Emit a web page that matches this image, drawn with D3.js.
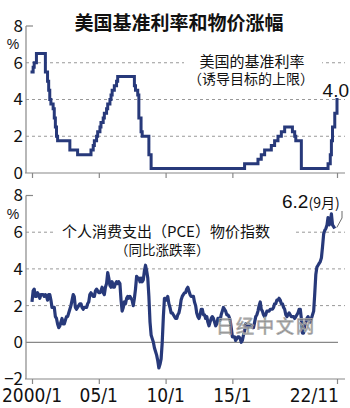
<!DOCTYPE html>
<html>
<head>
<meta charset="utf-8">
<script src="https://cdn.jsdelivr.net/npm/d3@7"></script>
<style>
  body { margin: 0; background: #fff; }
  text { font-family: "Noto Sans CJK SC", "Liberation Sans", sans-serif; fill: #111; }
  .num { font-family: "Liberation Sans", Arial, sans-serif; }
  .narrow { font-family: "Liberation Sans Narrow", "DejaVu Sans Condensed", sans-serif; }
</style>
</head>
<body>
<svg id="chart" width="350" height="408"></svg>
<script>
// fed funds target (upper bound), month of each change
const rateMonths = [
  "2000-01","2000-02","2000-03","2000-05","2001-01","2001-03","2001-04","2001-05","2001-06","2001-08",
  "2001-09","2001-10","2001-11","2001-12","2002-11","2003-06","2004-06","2004-08","2004-09","2004-11",
  "2004-12","2005-02","2005-03","2005-05","2005-06","2005-08","2005-09","2005-11","2005-12","2006-01",
  "2006-03","2006-05","2006-06","2007-09","2007-10","2007-12","2008-01","2008-03","2008-04","2008-10",
  "2008-12","2015-12","2016-12","2017-03","2017-06","2017-12","2018-03","2018-06","2018-09","2018-12",
  "2019-07","2019-09","2019-10","2020-03","2022-03","2022-05","2022-06","2022-07","2022-09","2022-11"
];
const rateValues = [
  5.5, 5.75, 6.0, 6.5, 5.5, 5.0, 4.5, 4.0, 3.75, 3.5,
  3.0, 2.5, 2.0, 1.75, 1.25, 1.0, 1.25, 1.5, 1.75, 2.0,
  2.25, 2.5, 2.75, 3.0, 3.25, 3.5, 3.75, 4.0, 4.25, 4.5,
  4.75, 5.0, 5.25, 4.75, 4.5, 4.25, 3.0, 2.25, 2.0, 1.0,
  0.25, 0.5, 0.75, 1.0, 1.25, 1.5, 1.75, 2.0, 2.25, 2.5,
  2.25, 2.0, 1.75, 0.25, 0.5, 1.0, 1.75, 2.5, 3.25, 4.0
];

// PCE price index, year-on-year %, monthly from 2000/1 to 2022/9
const pceStart = "2000-01";
const pceValues = [
  2.2, 2.8, 2.9, 2.5, 2.5, 2.7, 2.6, 2.4, 2.6, 2.6, 2.6, 2.5,
  2.6, 2.5, 2.3, 2.6, 2.6, 2.3, 1.9, 1.9, 1.9, 1.4, 1.3, 1.0,
  0.8, 0.9, 1.1, 1.3, 1.0, 1.0, 1.2, 1.4, 1.4, 1.6, 1.8, 2.0,
  2.3, 2.6, 2.5, 1.9, 1.8, 1.9, 2.0, 2.1, 2.1, 1.9, 1.8, 1.9,
  1.9, 1.9, 2.1, 2.2, 2.6, 2.7, 2.6, 2.5, 2.5, 2.8, 2.9, 2.8,
  2.7, 2.7, 2.8, 3.0, 2.7, 2.6, 3.0, 3.2, 3.8, 3.5, 3.1, 3.0,
  3.3, 3.0, 3.0, 3.2, 3.3, 3.2, 3.3, 3.2, 2.3, 1.7, 1.9, 2.2,
  2.1, 2.4, 2.5, 2.4, 2.5, 2.4, 2.3, 2.0, 2.4, 2.9, 3.6, 3.5,
  3.5, 3.3, 3.5, 3.3, 3.4, 3.9, 4.2, 3.9, 3.5, 2.5, 1.1, 0.4,
  0.2, 0.0, -0.3, -0.5, -0.7, -1.0, -1.4, -1.2, -0.9, 0.0, 1.4, 2.4,
  2.4, 2.3, 2.5, 2.1, 1.9, 1.6, 1.6, 1.5, 1.4, 1.3, 1.3, 1.5,
  1.6, 1.9, 2.3, 2.5, 2.6, 2.7, 2.7, 2.9, 3.0, 2.8, 2.6, 2.5,
  2.5, 2.5, 2.2, 2.0, 1.6, 1.4, 1.3, 1.5, 1.8, 1.8, 1.5, 1.5,
  1.3, 1.4, 1.1, 0.9, 1.1, 1.3, 1.4, 1.3, 1.1, 0.9, 1.0, 1.3,
  1.3, 1.2, 1.5, 1.7, 1.9, 1.8, 1.7, 1.5, 1.5, 1.4, 1.2, 0.8,
  0.3, 0.3, 0.3, 0.1, 0.2, 0.3, 0.3, 0.2, 0.0, 0.1, 0.4, 0.6,
  1.0, 0.8, 0.8, 0.9, 0.9, 0.9, 0.8, 0.8, 1.1, 1.4, 1.5, 1.7,
  2.0, 2.2, 1.8, 1.7, 1.5, 1.4, 1.5, 1.7, 1.7, 1.7, 1.8, 1.8,
  1.8, 1.9, 2.1, 2.1, 2.3, 2.3, 2.4, 2.3, 2.1, 2.1, 1.9, 1.8,
  1.5, 1.4, 1.5, 1.6, 1.5, 1.4, 1.4, 1.4, 1.3, 1.4, 1.5, 1.6,
  1.8, 1.8, 1.3, 0.5, 0.5, 0.9, 1.1, 1.3, 1.4, 1.2, 1.1, 1.3,
  1.5, 1.7, 2.6, 3.7, 4.1, 4.2, 4.3, 4.4, 4.6, 5.2, 5.9, 6.1,
  6.2, 6.4, 6.8, 6.4, 6.5, 7.0, 6.4, 6.3, 6.2
];

const xTickMonths = ["2000-01", "2005-01", "2010-01", "2015-01", "2022-11"];
const xTickLabels = ["2000/1", "05/1", "10/1", "15/1", "22/11"];
const topTicks = [0, 2, 4, 6, 8];
const bottomTicks = [-2, 0, 2, 4, 6, 8];

const parseMonth = d3.timeParse("%Y-%m");
const navy = "#27397a";
const gray = "#888";

const svg = d3.select("#chart");
svg.append("rect").attr("width", 350).attr("height", 408).attr("fill", "#fff");

const x = d3.scaleTime()
  .domain([parseMonth("2000-01"), parseMonth("2022-11")])
  .range([32, 337]);
const yTop = d3.scaleLinear().domain([0, 8]).range([173, 26]);
const yBot = d3.scaleLinear().domain([-2, 8]).range([379, 195.5]);

const axisLeftX = 26, axisRightX = 345;

const rates = rateMonths.map((m, i) => ({date: parseMonth(m), value: rateValues[i]}));
const pce = pceValues.map((v, i) => ({date: d3.timeMonth.offset(parseMonth(pceStart), i), value: v}));

// title
svg.append("text")
  .attr("x", 179).attr("y", 30)
  .attr("text-anchor", "middle")
  .attr("font-size", 19).attr("font-weight", "bold")
  .text("美国基准利率和物价涨幅");

function drawPanel(y, ticks, dashed) {
  const g = svg.append("g");
  // dashed gridlines
  g.selectAll("line.grid")
    .data(dashed)
    .enter().append("line")
    .attr("x1", axisLeftX).attr("x2", axisRightX)
    .attr("y1", d => y(d)).attr("y2", d => y(d))
    .attr("stroke", "#999").attr("stroke-width", 1).attr("stroke-dasharray", "3,3");

  // y axis line + top tick
  const top = y(d3.max(ticks)), bottom = y(d3.min(ticks));
  g.append("line")
    .attr("x1", axisLeftX).attr("x2", axisLeftX).attr("y1", top).attr("y2", bottom)
    .attr("stroke", gray).attr("stroke-width", 1.2);
  g.append("line")
    .attr("x1", axisLeftX).attr("x2", axisLeftX + 7).attr("y1", top).attr("y2", top)
    .attr("stroke", gray).attr("stroke-width", 1.2);

  // bottom axis line
  g.append("line")
    .attr("x1", axisLeftX - 1).attr("x2", axisRightX).attr("y1", bottom).attr("y2", bottom)
    .attr("stroke", gray).attr("stroke-width", 1.2);

  // x ticks (no labels here)
  const xAxis = d3.axisBottom(x)
    .tickValues(xTickMonths.map(parseMonth))
    .tickSize(5).tickFormat("");
  g.append("g")
    .attr("transform", `translate(0,${bottom})`)
    .call(xAxis)
    .call(a => a.select(".domain").remove())
    .call(a => a.selectAll(".tick line").attr("stroke", gray).attr("stroke-width", 1.2));

  // y tick labels
  const yAxis = d3.axisLeft(y).tickValues(ticks).tickSize(0).tickPadding(0);
  g.append("g")
    .attr("transform", `translate(23,0)`)
    .call(yAxis)
    .call(a => a.select(".domain").remove())
    .call(a => a.selectAll("text")
      .attr("font-size", 17)
      .attr("fill", "#111")
      .attr("font-family", "Liberation Sans, Arial, sans-serif"));

  g.append("text")
    .attr("class", "num")
    .attr("x", 13).attr("y", top + 23)
    .attr("text-anchor", "middle").attr("font-size", 14)
    .text("%");
  return g;
}

// ---- top panel: policy rate ----
drawPanel(yTop, topTicks, [2, 4, 6]);

svg.append("rect").attr("x", 184).attr("y", 50).attr("width", 138).attr("height", 37).attr("fill", "#fff");
svg.append("text").attr("x", 252).attr("y", 67).attr("text-anchor", "middle").attr("font-size", 15)
  .text("美国的基准利率");
svg.append("text").attr("x", 251).attr("y", 84).attr("text-anchor", "middle").attr("font-size", 14)
  .text("（诱导目标的上限）");

const rateLine = d3.line()
  .curve(d3.curveStepAfter)
  .x(d => x(d.date))
  .y(d => yTop(d.value));
svg.append("path")
  .datum(rates)
  .attr("d", rateLine)
  .attr("fill", "none").attr("stroke", navy).attr("stroke-width", 3)
  .attr("stroke-linejoin", "miter").attr("stroke-linecap", "square");

const lastRate = rates[rates.length - 1];
svg.append("text").attr("class", "num")
  .attr("x", 349).attr("y", 97).attr("text-anchor", "end").attr("font-size", 19)
  .text(lastRate.value.toFixed(1));

// ---- bottom panel: PCE ----
drawPanel(yBot, bottomTicks, [2, 4, 6]);

svg.append("line") // zero line
  .attr("x1", axisLeftX).attr("x2", 338).attr("y1", yBot(0)).attr("y2", yBot(0))
  .attr("stroke", gray).attr("stroke-width", 1.2);

// x tick labels
svg.selectAll("text.xlab")
  .data(xTickMonths)
  .enter().append("text")
  .attr("class", "xlab narrow")
  .attr("x", (d, i) => i === xTickMonths.length - 1 ? x(parseMonth(d)) + 2 : x(parseMonth(d)))
  .attr("y", 402)
  .attr("text-anchor", (d, i) => i === xTickMonths.length - 1 ? "end" : "middle")
  .attr("font-size", 19)
  .text((d, i) => xTickLabels[i]);

svg.append("rect").attr("x", 56).attr("y", 222).attr("width", 240).attr("height", 36).attr("fill", "#fff");
svg.append("text").attr("x", 62).attr("y", 237).attr("font-size", 15)
  .text("个人消费支出（PCE）物价指数");
svg.append("text").attr("x", 115).attr("y", 255).attr("font-size", 13.5)
  .text("（同比涨跌率）");

const pceLine = d3.line()
  .x(d => x(d.date))
  .y(d => yBot(d.value));
svg.append("path")
  .datum(pce)
  .attr("d", pceLine)
  .attr("fill", "none").attr("stroke", navy).attr("stroke-width", 3.2)
  .attr("stroke-linejoin", "round");

// label for latest value
const lastPce = pce[pce.length - 1];
const lbl = svg.append("text").attr("x", 282).attr("y", 208);
lbl.append("tspan").attr("class", "num").attr("font-size", 19).text(lastPce.value.toFixed(1));
lbl.append("tspan").attr("font-size", 14).text("(9月)");
svg.append("polyline")
  .attr("points", [[342, 211], [342, 218], [x(lastPce.date) + 2, yBot(lastPce.value) - 1]].join(" "))
  .attr("fill", "none").attr("stroke", "#444").attr("stroke-width", 0.8);

// watermark
svg.append("text")
  .attr("x", 266).attr("y", 333)
  .attr("text-anchor", "middle")
  .attr("font-size", 18).attr("letter-spacing", 2)
  .attr("fill", "#fff").attr("fill-opacity", 0.55)
  .attr("stroke", "#b0b0b0").attr("stroke-width", 0.8)
  .text("日经中文网");
</script>
</body>
</html>
